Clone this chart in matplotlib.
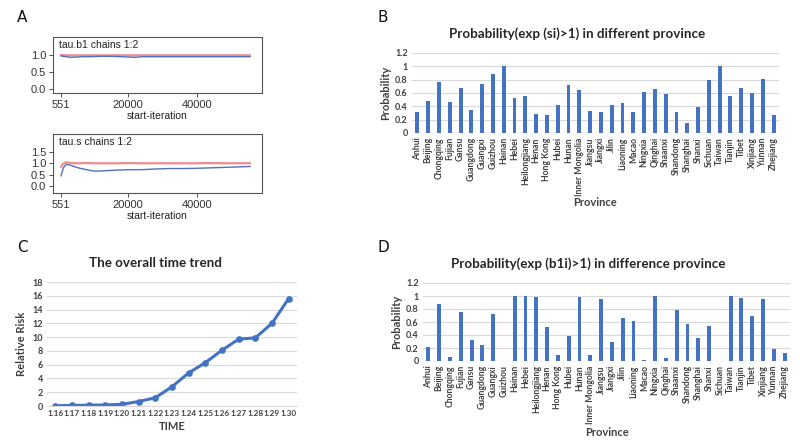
import numpy as np
import matplotlib.pyplot as plt

# ========================= DATA =========================
# Panel A: Gelman-Rubin shrink factor traces
iters_b1 = [551, 2000, 3500, 5000, 7000, 9000, 12000, 15000, 18000, 20000,
            22000, 24000, 28000, 32000, 36000, 40000, 44000, 48000, 52000, 55500]
b1_median = [0.97, 0.95, 0.93, 0.94, 0.95, 0.95, 0.96, 0.96, 0.95, 0.94,
             0.93, 0.95, 0.95, 0.95, 0.95, 0.95, 0.95, 0.95, 0.95, 0.95]
b1_upper = [1.00, 0.99, 0.99, 0.99, 0.99, 0.99, 0.99, 0.99, 0.99, 0.99,
            0.99, 0.99, 0.99, 0.99, 0.99, 0.99, 0.99, 0.99, 0.99, 0.99]

iters_s = [551, 1200, 2000, 3000, 4500, 6000, 8000, 10000, 12000, 14000,
           17000, 20000, 24000, 28000, 32000, 36000, 40000, 44000, 48000, 52000, 55500]
s_median = [0.45, 0.80, 0.95, 0.93, 0.85, 0.78, 0.72, 0.66, 0.66, 0.68,
            0.70, 0.72, 0.72, 0.75, 0.77, 0.77, 0.78, 0.80, 0.82, 0.84, 0.86]
s_upper = [0.85, 0.98, 1.05, 1.02, 1.00, 1.00, 1.01, 1.00, 1.00, 1.00,
           1.00, 1.01, 1.00, 1.00, 1.00, 1.00, 1.00, 1.01, 1.00, 1.00, 1.00]

# Panels B and D: provinces
provinces = ['Anhui', 'Beijing', 'Chongqing', 'Fujian', 'Gansu', 'Guangdong', 'Guangxi',
             'Guizhou', 'Hainan', 'Hebei', 'Heilongjiang', 'Henan', 'Hong Kong', 'Hubei',
             'Hunan', 'Inner Mongolia', 'Jiangsu', 'Jiangxi', 'Jilin', 'Liaoning', 'Macao',
             'Ningxia', 'Qinghai', 'Shaanxi', 'Shandong', 'Shanghai', 'Shanxi', 'Sichuan',
             'Taiwan', 'Tianjin', 'Tibet', 'Xinjiang', 'Yunnan', 'Zhejiang']
prob_si = [0.32, 0.48, 0.76, 0.46, 0.68, 0.35, 0.73, 0.89, 1.00, 0.52, 0.55, 0.29,
           0.27, 0.42, 0.72, 0.65, 0.33, 0.32, 0.42, 0.45, 0.32, 0.62, 0.66, 0.58,
           0.32, 0.15, 0.39, 0.80, 1.00, 0.55, 0.67, 0.60, 0.81, 0.27]
prob_b1i = [0.21, 0.87, 0.06, 0.76, 0.32, 0.24, 0.73, 0.00, 1.00, 1.00, 0.98, 0.52,
            0.09, 0.39, 0.98, 0.10, 0.96, 0.30, 0.66, 0.62, 0.02, 1.00, 0.04, 0.79,
            0.57, 0.35, 0.54, 0.00, 1.00, 0.97, 0.70, 0.95, 0.19, 0.12]

# Panel C: overall time trend
dates = ['1.16', '1.17', '1.18', '1.19', '1.20', '1.21', '1.22', '1.23', '1.24',
         '1.25', '1.26', '1.27', '1.28', '1.29', '1.30']
rel_risk = [0.05, 0.08, 0.12, 0.15, 0.25, 0.65, 1.2, 2.8, 4.8, 6.3, 8.1, 9.7, 9.9, 12.0, 15.6]

# ========================= STYLE =========================
W, H = 800, 441
BLUE = '#4472C4'
GRID = '#D9D9D9'
XL = 'Lato'
RF = 'Liberation Sans'


def rect(x0, y0, x1, y1):
    return [x0 / W, 1 - y1 / H, (x1 - x0) / W, (y1 - y0) / H]


fig = plt.figure(figsize=(8, 4.41), dpi=100)


# ========================= PANEL A =========================
def gelman_panel(r, x, med, up, title, ylim, yticks):
    ax = fig.add_axes(r)
    ax.plot(x, up, color='#F08080', lw=1.6, alpha=0.9)
    ax.plot(x, med, color='#5070C0', lw=1.0)
    ax.set_xlim(-1800, 59000)
    ax.set_ylim(*ylim)
    ax.set_xticks([551, 20000, 40000])
    ax.set_xticklabels(['551', '20000', '40000'])
    ax.set_yticks(yticks)
    ax.set_yticklabels([f'{v:.1f}' for v in yticks])
    ax.tick_params(labelsize=8, length=3, width=0.6, colors='#333333', pad=2)
    for lab in ax.get_xticklabels() + ax.get_yticklabels():
        lab.set_family(RF)
    for s in ax.spines.values():
        s.set_color('#555555')
        s.set_linewidth(0.8)
    ax.text(0.03, 0.95, title, transform=ax.transAxes, ha='left', va='top',
            fontsize=7.5, family=RF, color='#222222')
    ax.set_xlabel('start-iteration', fontsize=7.5, family=RF, labelpad=1, color='#222222')
    return ax


gelman_panel(rect(53, 37, 262, 93), iters_b1, b1_median, b1_upper,
             'tau.b1 chains 1:2', (-0.12, 1.53), [0.0, 0.5, 1.0])
gelman_panel(rect(53, 134, 262, 193), iters_s, s_median, s_upper,
             'tau.s chains 1:2', (-0.3, 2.28), [0.0, 0.5, 1.0, 1.5])


# ========================= BAR PANELS =========================
def excel_style(ax, ylim, yticks, ylab_fmt):
    ax.set_ylim(*ylim)
    ax.set_yticks(yticks)
    ax.set_yticklabels([ylab_fmt(v) for v in yticks], fontsize=6.5, fontweight='bold',
                       family=XL, color='#404040')
    ax.grid(axis='y', color=GRID, lw=0.8)
    ax.set_axisbelow(True)
    for s in ax.spines.values():
        s.set_visible(False)
    ax.tick_params(length=0, pad=3)


def prob_fmt(v):
    return f'{v:g}'


def bar_panel(r, values, title, tx, ty, letter, lx, ly, xly):
    ax = fig.add_axes(r)
    x = np.arange(len(provinces))
    ax.bar(x, values, width=0.36, color=BLUE)
    ax.set_xlim(-0.5, len(provinces) - 0.5)
    excel_style(ax, (0, 1.2), [0, 0.2, 0.4, 0.6, 0.8, 1.0, 1.2], prob_fmt)
    ax.set_xticks(x)
    ax.set_xticklabels(provinces, rotation=90, fontsize=6.2, fontweight='bold',
                       family=XL, color='#404040')
    ax.set_ylabel('Probability', fontsize=8, fontweight='bold', family=XL,
                  color='#404040', labelpad=3)
    fig.text(tx / W, 1 - ty / H, title, ha='center', va='center', fontsize=9.6,
             fontweight='bold', family=XL, color='#262626')
    fig.text(lx / W, 1 - ly / H, letter, ha='center', va='center', fontsize=11,
             family='DejaVu Sans', color='#111111')
    fig.text((r[0] + r[2] / 2), 1 - xly / H, 'Province', ha='center', va='center',
             fontsize=8, fontweight='bold', family=XL, color='#404040')
    return ax


bar_panel(rect(412, 53, 779, 133), prob_si,
          'Probability(exp (si)>1) in different province', 577, 34, 'B', 383, 18, 203)
bar_panel(rect(423, 283, 790, 361), prob_b1i,
          'Probability(exp (b1i)>1) in difference province', 588, 264, 'D', 383, 247, 433)

# ========================= PANEL C =========================
axc = fig.add_axes(rect(47, 282, 297, 406))
xc = np.arange(len(dates))
axc.plot(xc, rel_risk, color=BLUE, lw=2.2, marker='o', markersize=3.8)
axc.set_xlim(-0.5, len(dates) - 0.5)
excel_style(axc, (0, 18), list(range(0, 19, 2)), lambda v: f'{v}')
axc.set_xticks(xc)
axc.set_xticklabels(dates, fontsize=5.9, fontweight='bold', family=XL, color='#404040')
axc.spines['bottom'].set_visible(True)
axc.spines['bottom'].set_color(GRID)
axc.set_ylabel('Relative Risk', fontsize=8, fontweight='bold', family=XL,
               color='#404040', labelpad=4)
axc.set_xlabel('TIME', fontsize=8, fontweight='bold', family=XL, color='#404040',
               labelpad=3)
fig.text(155 / W, 1 - 263 / H, 'The overall time trend', ha='center', va='center',
         fontsize=9.6, fontweight='bold', family=XL, color='#262626')

fig.text(22 / W, 1 - 18 / H, 'A', ha='center', va='center', fontsize=11,
         family='DejaVu Sans', color='#111111')
fig.text(22 / W, 1 - 248 / H, 'C', ha='center', va='center', fontsize=11,
         family='DejaVu Sans', color='#111111')

fig.savefig('out.png', dpi=100)
